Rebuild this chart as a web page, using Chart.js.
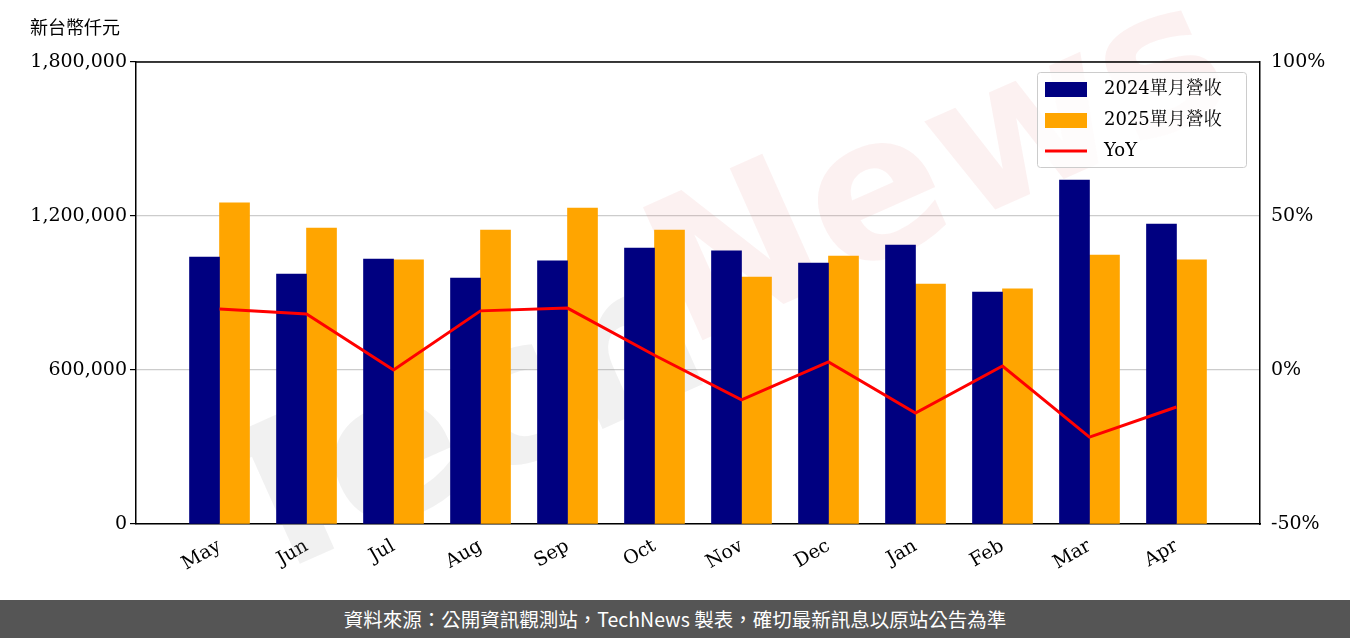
<!DOCTYPE html>
<html><head><meta charset="utf-8">
<script src="https://cdn.jsdelivr.net/npm/chart.js@4/dist/chart.umd.min.js"></script>
<style>
html,body{margin:0;padding:0;background:#fff;width:1350px;height:638px;overflow:hidden}
#wrap{position:relative;width:1350px;height:600px}
#footer{width:1350px;height:38px;background:#555;color:#fff;font-family:"Noto Sans CJK TC","Noto Sans";font-size:19.5px;line-height:38px;text-align:center}
#unit{position:absolute;left:30px;top:13px;font-family:"Noto Sans CJK TC";font-size:18px;color:#000}
</style></head><body>
<div id="wrap"><canvas id="c" width="1350" height="600"></canvas><div id="unit">新台幣仟元</div></div>
<div id="footer">資料來源：公開資訊觀測站，TechNews 製表，確切最新訊息以原站公告為準</div>
<script>
const months = ["May","Jun","Jul","Aug","Sep","Oct","Nov","Dec","Jan","Feb","Mar","Apr"];
const rev2024 = [1040000,974000,1032000,958000,1025000,1075000,1064000,1017000,1087000,904000,1340000,1169000];
const rev2025 = [1251000,1153000,1029000,1145000,1231000,1145000,962000,1044000,935000,916000,1048000,1029000];
const yoy = [19.8,18.2,0,19.2,20.1,4.8,-9.7,2.6,-14,1.3,-21.8,-12];
const leftTicks = [0,600000,1200000,1800000];
const rightTicks = [-50,0,50,100];
const serif = "'DejaVu Serif'";

const legendPlugin = {
  id:'lg',
  afterDraw(chart){
    const ctx = chart.ctx, a = chart.chartArea;
    const x = a.right - 223, y = a.top + 10, w = 209, h = 95;
    ctx.save();
    ctx.fillStyle='rgba(255,255,255,0.8)'; ctx.strokeStyle='#ccc'; ctx.lineWidth=1;
    ctx.beginPath(); ctx.roundRect(x+0.5,y+0.5,w,h,3); ctx.fill(); ctx.stroke();
    const items=[['2024單月營收','#000080','bar'],['2025單月營收','#FFA500','bar'],['YoY','#FF0000','line']];
    ctx.font="18px 'DejaVu Serif','Noto Serif CJK TC','Noto Sans CJK TC'"; ctx.textBaseline='middle';
    items.forEach((it,i)=>{
      const cy = y+17+i*31;
      if(it[2]==='bar'){ctx.fillStyle=it[1];ctx.fillRect(x+8,cy-7,42,15);}
      else{ctx.strokeStyle=it[1];ctx.lineWidth=3;ctx.beginPath();ctx.moveTo(x+8,cy);ctx.lineTo(x+50,cy);ctx.stroke();}
      ctx.fillStyle='#000'; ctx.fillText(it[0],x+67,cy);
    });
    ctx.restore();
  },
  beforeDatasetsDraw(chart){
    const ctx=chart.ctx;
    ctx.save();
    ctx.translate(690,300); ctx.rotate(-0.42);
    ctx.font="bold 200px 'DejaVu Sans'"; ctx.textAlign='center'; ctx.textBaseline='middle';
    ctx.fillStyle='rgba(150,150,150,0.13)'; ctx.fillText('Tech',-260,30);
    ctx.fillStyle='rgba(230,120,120,0.1)'; ctx.fillText('News',280,-10);
    ctx.restore();
  }
};

new Chart(document.getElementById('c'),{
  data:{datasets:[
    {type:'line',data:yoy.map((v,i)=>({x:i,y:v})),yAxisID:'y1',borderColor:'#FF0000',borderWidth:3,pointRadius:0,tension:0,order:0},
    {type:'bar',data:rev2024.map((v,i)=>({x:i,y:v})),yAxisID:'y',backgroundColor:'#000080',barThickness:30,grouped:true,order:1},
    {type:'bar',data:rev2025.map((v,i)=>({x:i,y:v})),yAxisID:'y',backgroundColor:'#FFA500',barThickness:30,grouped:true,order:1}
  ]},
  options:{
    responsive:false,animation:false,
    layout:{padding:{top:62,left:0,right:0,bottom:0}},
    plugins:{legend:{display:false},tooltip:{enabled:false}},
    scales:{
      x:{type:'linear',offset:false,min:-0.96,max:11.96,
        afterBuildTicks(s){s.ticks=months.map((m,i)=>({value:i}));},
        afterFit(s){s.height=76;},
        ticks:{callback:(v)=>months[v],maxRotation:30,minRotation:30,color:'#000',font:{family:serif,size:19}},
        grid:{display:false,drawTicks:true},border:{color:'#000',width:1.5}},
      y:{position:'left',min:0,max:1800000,
        afterBuildTicks(s){s.ticks=leftTicks.map(v=>({value:v}));},
        afterFit(s){s.width=136;},
        ticks:{color:'#000',font:{family:serif,size:19},callback:v=>v.toLocaleString('en-US')},
        grid:{color:'#ccc',lineWidth:1.2,tickColor:'#000',tickLength:6},border:{color:'#000',width:1.5}},
      y1:{position:'right',min:-50,max:100,
        afterBuildTicks(s){s.ticks=rightTicks.map(v=>({value:v}));},
        afterFit(s){s.width=90;},
        ticks:{color:'#000',font:{family:serif,size:19},callback:v=>v+'%'},
        grid:{display:false,drawOnChartArea:false},border:{color:'#000',width:1.5}}
    }
  },
  plugins:[legendPlugin,{id:'top',afterDraw(c){const a=c.chartArea,ctx=c.ctx;ctx.save();ctx.strokeStyle='#000';ctx.lineWidth=1.5;ctx.beginPath();ctx.moveTo(a.left,a.top);ctx.lineTo(a.right,a.top);ctx.stroke();ctx.restore();}}]
});
</script></body></html>
